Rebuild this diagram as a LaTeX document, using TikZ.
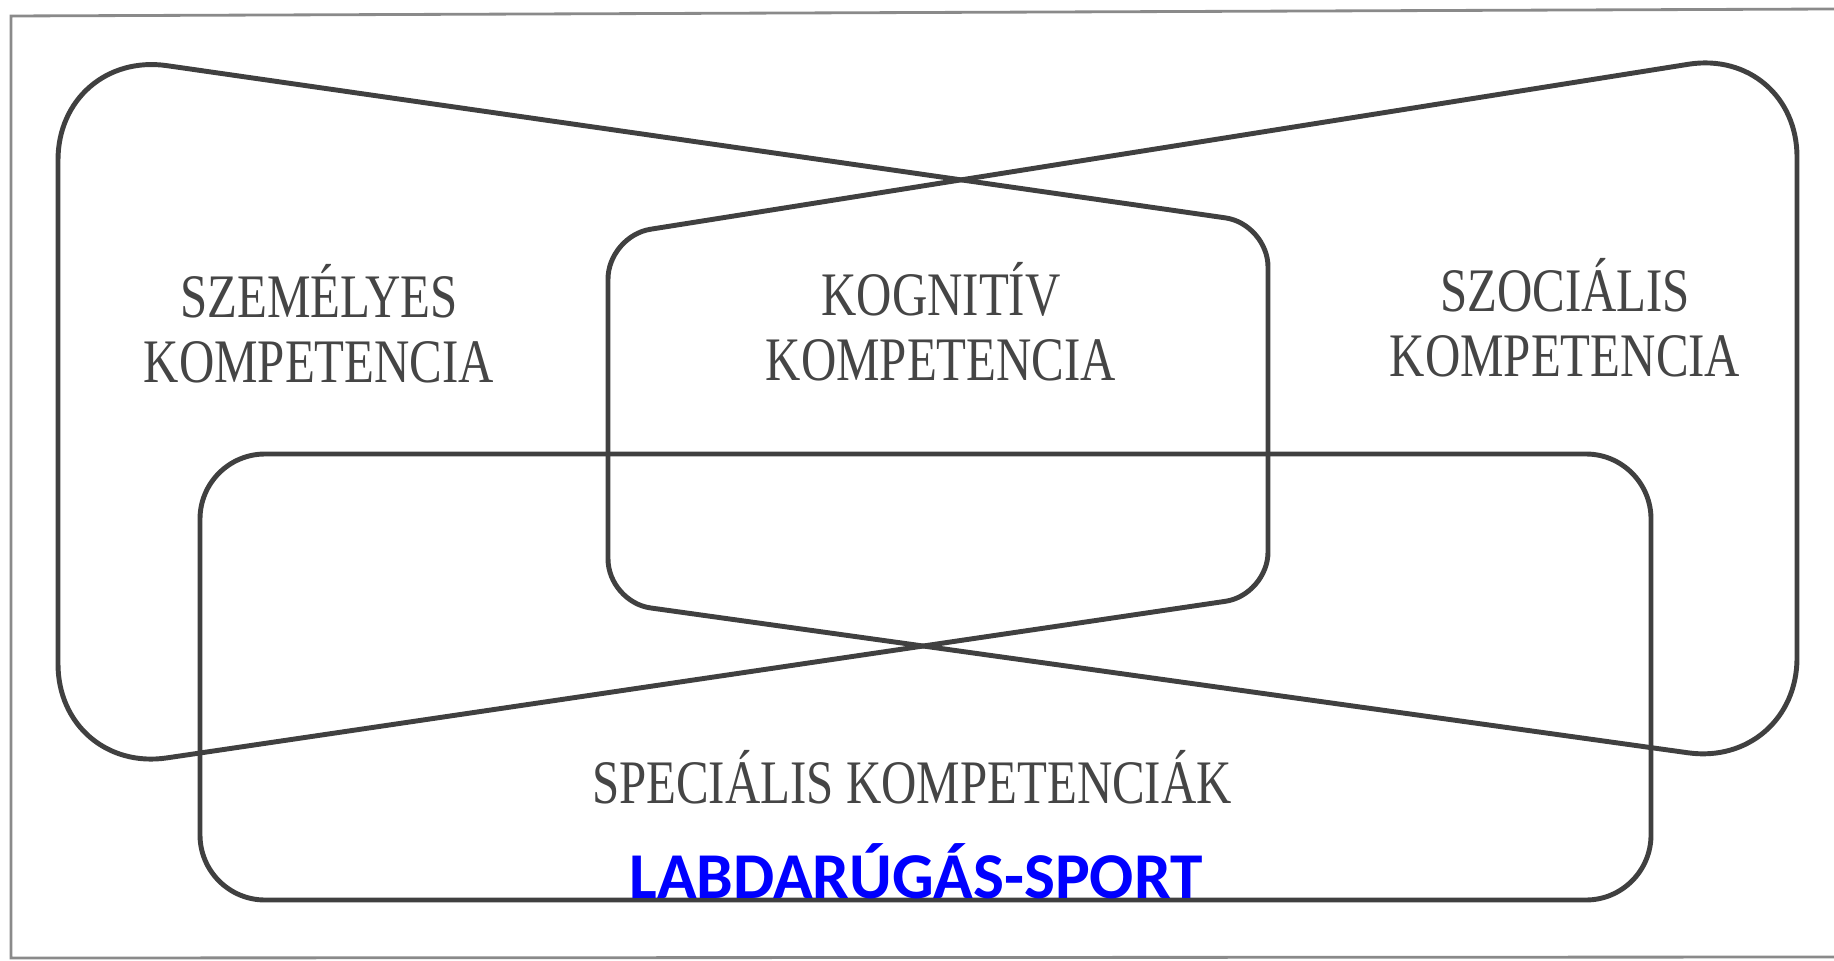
\documentclass[tikz,border=0pt]{standalone}
\usepackage{fontspec}
\newfontfamily\labelfont[FakeStretch=0.79]{Liberation Serif}
\newfontfamily\sportfont{Carlito}
\definecolor{inkgray}{HTML}{404040}
\definecolor{textgray}{HTML}{454545}
\definecolor{framegray}{HTML}{8A8A8A}

\begin{document}
\begin{tikzpicture}[
    x=0.01cm, y=-0.01cm,
    every node/.style={inner sep=0pt, text centered},
    frame/.style={draw=framegray, line width=0.8pt},
    area/.style={draw=inkgray, line width=1.4pt, line join=round},
    comp/.style={font=\labelfont\fontsize{17.6}{18.4}\selectfont,
        text=textgray, align=center},
    sport/.style={font=\sportfont\bfseries\fontsize{18.6}{20}\selectfont,
        text=blue},
]
\useasboundingbox (0,0) rectangle (1834,961);

% Frame (open on the right)
\draw[frame] (1834,9) -- (11,16) -- (11,958) -- (1834,957);

% Personal area
\draw[area] (58,420) [rounded corners=1.1cm] -- (58,50)
    [rounded corners=0.43cm] -- (1268,224) -- (1268,595)
    [rounded corners=1.1cm] -- (58,774) -- cycle;

% Social area
\draw[area] (1797,420) [rounded corners=1.1cm] -- (1797,47)
    [rounded corners=0.43cm] -- (608,236) -- (608,602)
    [rounded corners=1.1cm] -- (1797,768) -- cycle;

% Special area
\draw[area, rounded corners=0.65cm] (200,454) rectangle (1651,900);

% Labels
\node[comp] (personal)  at ( 319, 324) {SZEMÉLYES\\KOMPETENCIA};
\node[comp] (cognitive) at ( 941, 322) {KOGNITÍV\\KOMPETENCIA};
\node[comp] (social)    at (1565, 318) {SZOCIÁLIS\\KOMPETENCIA};
\node[comp] (special)   at ( 912, 777) {SPECIÁLIS KOMPETENCIÁK};
\node[sport] (football) at ( 916, 871) {LABDARÚGÁS-SPORT};

\end{tikzpicture}
\end{document}
